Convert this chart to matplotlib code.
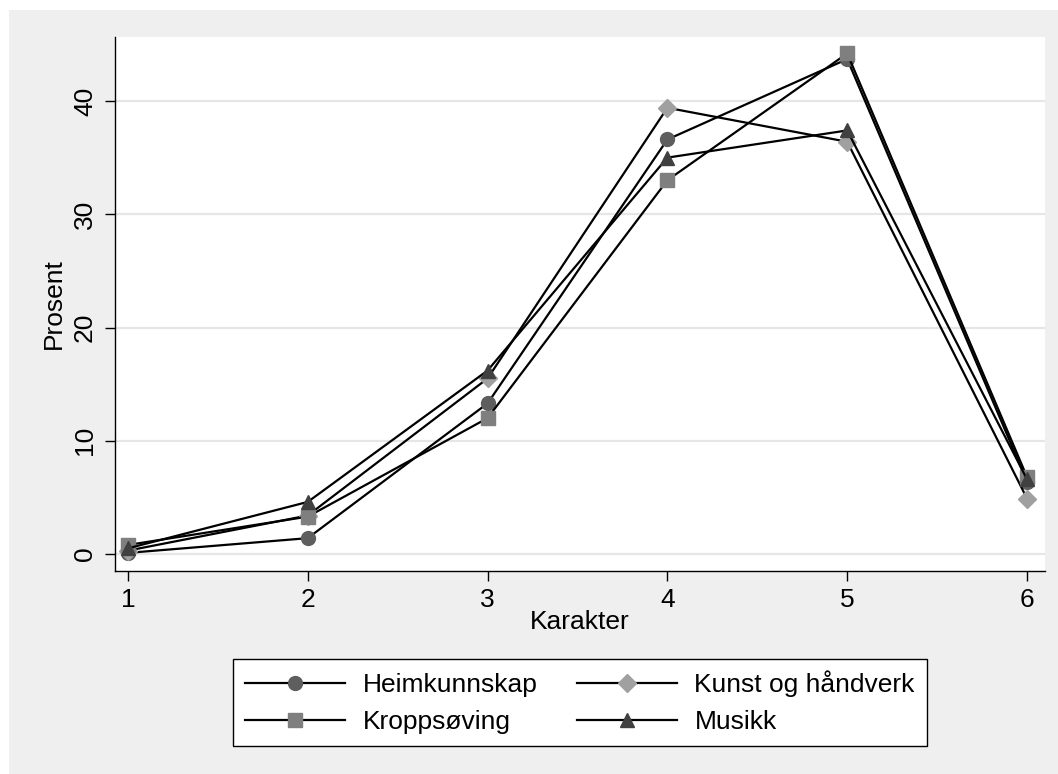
import matplotlib.pyplot as plt
import matplotlib.patches as patches

plt.rcParams['font.family'] = ['Liberation Sans', 'DejaVu Sans']

karakter = [1, 2, 3, 4, 5, 6]
heimkunnskap = [0.1, 1.4, 13.3, 36.6, 43.7, 6.4]
kunst = [0.3, 3.4, 15.5, 39.4, 36.4, 4.9]
kroppsoving = [0.8, 3.3, 12.0, 33.0, 44.2, 6.8]
musikk = [0.5, 4.6, 16.2, 35.0, 37.4, 6.6]

series = [
    ('Heimkunnskap', heimkunnskap, 'o', '#5e5e5e'),
    ('Kunst og håndverk', kunst, 'D', '#a0a0a0'),
    ('Kroppsøving', kroppsoving, 's', '#7f7f7f'),
    ('Musikk', musikk, '^', '#404040'),
]

fig = plt.figure(figsize=(10.58, 7.74), dpi=100, facecolor='white')
# grey graph region like Stata's s2gcolor scheme
bg = patches.Rectangle((9 / 1058, 0), 1, 1 - 10 / 774, transform=fig.transFigure,
                       facecolor='#efefef', edgecolor='none', zorder=-10)
fig.patches.append(bg)

ax = fig.add_axes([115 / 1058, 1 - 571 / 774, (1045 - 115) / 1058, (571 - 37) / 774])
ax.set_facecolor('white')

marker_sizes = {'o': 10, 'D': 9, 's': 9.5, '^': 10.5}
lines = {}
for name, vals, m, c in series:
    ln, = ax.plot(karakter, vals, color='black', lw=1.6, marker=m, ms=marker_sizes[m],
                  markerfacecolor=c, markeredgecolor=c, label=name)
    lines[name] = ln

ax.set_xlim(0.928, 6.1)
ax.set_ylim(-1.5, 45.65)
ax.set_xticks(karakter)
ax.set_yticks([0, 10, 20, 30, 40])
ax.set_yticklabels(['0', '10', '20', '30', '40'], rotation=90, va='center')
ax.yaxis.grid(True, color='#e6e6e6', lw=1.6)
ax.set_axisbelow(True)
for s in ['top', 'right']:
    ax.spines[s].set_visible(False)
for s in ['left', 'bottom']:
    ax.spines[s].set_linewidth(1.0)
ax.tick_params(direction='out', length=7, width=1.0, labelsize=19)
ax.tick_params(axis='x', pad=5)
ax.tick_params(axis='y', pad=6)
ax.set_xlabel('Karakter', fontsize=19, labelpad=-1)
ax.set_ylabel('Prosent', fontsize=19, labelpad=5)

# legend filled row-wise as in the original
order = ['Heimkunnskap', 'Kroppsøving', 'Kunst og håndverk', 'Musikk']
leg = fig.legend([lines[n] for n in order], order, loc='center',
                 bbox_to_anchor=(580 / 1058, 1 - 702.5 / 774), ncol=2,
                 fontsize=19, frameon=True, fancybox=False, edgecolor='black',
                 facecolor='white', framealpha=1, handlelength=3.8, handletextpad=0.65,
                 columnspacing=1.5, labelspacing=0.5, borderpad=0.45, borderaxespad=0)
leg.get_frame().set_linewidth(1.0)

fig.savefig('out.png', dpi=100, facecolor=fig.get_facecolor())
